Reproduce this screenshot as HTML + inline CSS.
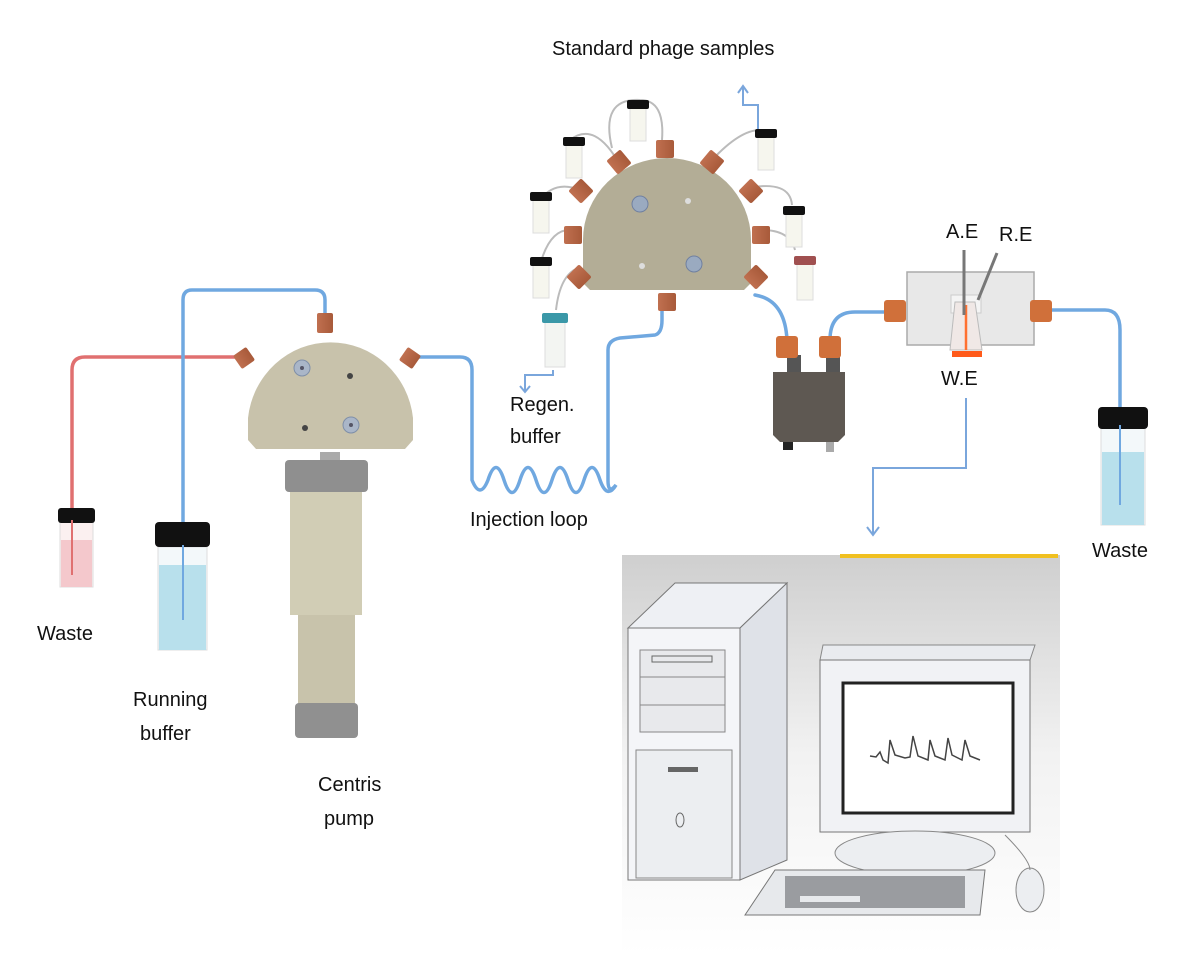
<!DOCTYPE html>
<html><head><meta charset="utf-8"><style>
html,body{margin:0;padding:0;background:#fff;}
svg{display:block;}
text{font-family:"Liberation Sans",sans-serif;font-size:20px;fill:#111;}
</style></head><body>
<svg width="1200" height="955" viewBox="0 0 1200 955" xmlns="http://www.w3.org/2000/svg">
<defs>
<linearGradient id="bg" x1="0" y1="0" x2="0" y2="1"><stop offset="0" stop-color="#cfcfcf"/><stop offset="0.5" stop-color="#f2f2f2"/><stop offset="1" stop-color="#fff"/></linearGradient>
<linearGradient id="cp" x1="0" y1="0" x2="1" y2="0"><stop offset="0" stop-color="#c07050"/><stop offset="1" stop-color="#a85a3a"/></linearGradient>
</defs>

<!-- Computer panel -->
<rect x="622" y="555" width="438" height="400" fill="url(#bg)"/>
<line x1="840" y1="556" x2="1058" y2="556" stroke="#f0c020" stroke-width="4"/>
<!-- tower -->
<polygon points="628,628 675,583 787,583 740,628" fill="#eef0f4" stroke="#777"/>
<polygon points="740,628 787,583 787,860 740,880" fill="#dfe2e8" stroke="#777"/>
<rect x="628" y="628" width="112" height="252" fill="#f4f5f8" stroke="#777"/>
<rect x="640" y="650" width="85" height="82" fill="#e8e9ec" stroke="#888"/>
<line x1="640" y1="677" x2="725" y2="677" stroke="#888"/><line x1="640" y1="705" x2="725" y2="705" stroke="#888"/>
<rect x="652" y="656" width="60" height="6" fill="none" stroke="#666"/>
<rect x="636" y="750" width="96" height="128" fill="#eceef1" stroke="#888"/>
<rect x="668" y="767" width="30" height="5" fill="#666"/>
<ellipse cx="680" cy="820" rx="4" ry="7" fill="none" stroke="#666"/>
<!-- monitor -->
<polygon points="823,645 1035,645 1030,660 820,660" fill="#e9ebef" stroke="#888"/>
<rect x="820" y="660" width="210" height="172" fill="#f1f2f5" stroke="#777"/>
<rect x="843" y="683" width="170" height="130" fill="#fff" stroke="#222" stroke-width="3"/>
<polyline points="870,756 876,757 880,752 883,760 888,763 890,740 895,755 905,758 910,757 913,736 918,756 928,760 930,740 935,756 945,760 948,738 952,755 962,760 965,740 970,756 980,760" fill="none" stroke="#444" stroke-width="1.5"/>
<ellipse cx="915" cy="853" rx="80" ry="22" fill="#eceef1" stroke="#888"/>
<!-- keyboard -->
<polygon points="775,870 985,870 980,915 745,915" fill="#e7e9ec" stroke="#777"/>
<rect x="785" y="876" width="180" height="32" fill="#9a9ca0"/>
<rect x="800" y="896" width="60" height="6" fill="#e7e9ec"/>
<ellipse cx="1030" cy="890" rx="14" ry="22" fill="#eceef1" stroke="#888"/>
<path d="M1005,835 Q1030,860 1030,870" fill="none" stroke="#888"/>

<!-- tubes -->
<g fill="none" stroke-width="3.5" stroke-linecap="round">
<path d="M245,357 L85,357 Q72,357 72,370 L72,550" stroke="#e07070"/>
<path d="M325,320 L325,300 Q325,290 315,290 L192,290 Q183,290 183,300 L183,640" stroke="#70a8e0"/>
<path d="M408,357 L460,357 Q472,357 472,370 L472,480 q8,20 16,0 q8,-25 16,0 q8,25 16,0 q8,-25 16,0 q8,25 16,0 q8,-25 16,0 q8,25 16,0 q8,-25 16,0 q7,20 16,5 Q608,495 608,480 L608,350 Q608,340 620,338 L655,335 Q662,333 662,320 L662,305" stroke="#70a8e0"/>
<path d="M755,295 Q785,300 787,340" stroke="#70a8e0"/>
<path d="M830,340 Q830,312 855,312 L885,312" stroke="#70a8e0"/>
<path d="M1048,310 L1105,310 Q1120,310 1120,330 L1120,410" stroke="#70a8e0"/>
<line x1="915" y1="310" x2="1030" y2="310" stroke="#9cc0e8" stroke-width="2"/>
</g>
<g fill="none" stroke="#7aa6dc" stroke-width="2">
<polyline points="966,398 966,468 873,468 873,535"/><polyline points="867,527 873,535 879,527"/>
<polyline points="758,130 758,105 743,105 743,86"/><polyline points="738,93 743,86 748,93"/>
<polyline points="553,370 553,375 525,375 525,392"/><polyline points="520,386 525,392 530,386"/>
</g>

<!-- Left valve -->
<path d="M248,418 A83,85 0 0 1 413,418 L413,440 L405,449 L256,449 L248,440 Z" fill="#c8c2ab"/>
<circle cx="302" cy="368" r="8" fill="#aab6c8" stroke="#7f8fa8"/><circle cx="302" cy="368" r="2" fill="#556"/>
<circle cx="350" cy="376" r="3" fill="#444"/><circle cx="305" cy="428" r="3" fill="#444"/>
<circle cx="351" cy="425" r="8" fill="#aab6c8" stroke="#7f8fa8"/><circle cx="351" cy="425" r="2" fill="#556"/>
<rect x="317" y="313" width="16" height="20" rx="2" fill="url(#cp)"/>
<rect x="236" y="350" width="16" height="16" rx="2" fill="url(#cp)" transform="rotate(-35 244 358)"/>
<rect x="402" y="350" width="16" height="16" rx="2" fill="url(#cp)" transform="rotate(35 410 358)"/>
<!-- pump -->
<rect x="320" y="452" width="20" height="10" fill="#aaa"/>
<rect x="285" y="460" width="83" height="32" rx="4" fill="#8f8f8f"/>
<rect x="290" y="492" width="72" height="123" fill="#d1cdb5"/>
<rect x="298" y="615" width="57" height="92" fill="#c8c3ab"/>
<rect x="295" y="703" width="63" height="35" rx="4" fill="#909090"/>
<!-- left vials -->
<rect x="60" y="522" width="33" height="65" fill="#fbf0f0" stroke="#ddd"/>
<rect x="61" y="540" width="31" height="47" fill="#f4c8cc"/>
<rect x="58" y="508" width="37" height="15" rx="3" fill="#111"/>
<rect x="158" y="547" width="49" height="103" fill="#f3f8fa" stroke="#ddd"/>
<rect x="159" y="565" width="47" height="85" fill="#b8e0ec"/>
<rect x="155" y="522" width="55" height="25" rx="4" fill="#111"/>
<line x1="72" y1="520" x2="72" y2="575" stroke="#e07070" stroke-width="2"/>
<line x1="183" y1="545" x2="183" y2="620" stroke="#70a8e0" stroke-width="2"/>

<!-- top valve sample tubes (grey) -->
<g fill="none" stroke="#bbb" stroke-width="2">
<path d="M612,148 Q600,98 640,100 Q665,100 662,140"/>
<path d="M620,165 Q595,120 570,140"/>
<path d="M580,190 Q555,180 540,200"/>
<path d="M572,230 Q550,228 540,265"/>
<path d="M578,268 Q560,275 556,310"/>
<path d="M712,160 Q740,130 760,130"/>
<path d="M748,188 Q790,180 792,205"/>
<path d="M762,230 Q790,230 795,250"/>
</g>
<!-- small vials -->
<g>
<rect x="630" y="106" width="16" height="35" fill="#f6f6ee" stroke="#ddd"/><rect x="627" y="100" width="22" height="9" rx="2" fill="#111"/>
<rect x="566" y="143" width="16" height="35" fill="#f6f6ee" stroke="#ddd"/><rect x="563" y="137" width="22" height="9" rx="2" fill="#111"/>
<rect x="533" y="198" width="16" height="35" fill="#f6f6ee" stroke="#ddd"/><rect x="530" y="192" width="22" height="9" rx="2" fill="#111"/>
<rect x="533" y="263" width="16" height="35" fill="#f6f6ee" stroke="#ddd"/><rect x="530" y="257" width="22" height="9" rx="2" fill="#111"/>
<rect x="545" y="321" width="20" height="46" fill="#f3f5f2" stroke="#ddd"/><rect x="542" y="313" width="26" height="10" rx="2" fill="#3a98a8"/>
<rect x="758" y="135" width="16" height="35" fill="#f6f6ee" stroke="#ddd"/><rect x="755" y="129" width="22" height="9" rx="2" fill="#111"/>
<rect x="786" y="212" width="16" height="35" fill="#f6f6ee" stroke="#ddd"/><rect x="783" y="206" width="22" height="9" rx="2" fill="#111"/>
<rect x="797" y="262" width="16" height="38" fill="#f6f6ee" stroke="#ddd"/><rect x="794" y="256" width="22" height="9" rx="2" fill="#a05050"/>
</g>
<!-- top valve -->
<path d="M583,240 A84,82 0 0 1 751,240 L751,283 L744,290 L590,290 L583,283 Z" fill="#b3ad96"/>
<circle cx="640" cy="204" r="8" fill="#9aaac0" stroke="#7080a0"/><circle cx="688" cy="201" r="3" fill="#ddd"/>
<circle cx="642" cy="266" r="3" fill="#ddd"/><circle cx="694" cy="264" r="8" fill="#9aaac0" stroke="#7080a0"/>
<g fill="url(#cp)">
<rect x="656" y="140" width="18" height="18" rx="2"/>
<rect x="610" y="153" width="18" height="18" rx="2" transform="rotate(-40 619 162)"/>
<rect x="703" y="153" width="18" height="18" rx="2" transform="rotate(40 712 162)"/>
<rect x="572" y="182" width="18" height="18" rx="2" transform="rotate(-45 581 191)"/>
<rect x="742" y="182" width="18" height="18" rx="2" transform="rotate(45 751 191)"/>
<rect x="564" y="226" width="18" height="18" rx="2"/>
<rect x="752" y="226" width="18" height="18" rx="2"/>
<rect x="570" y="268" width="18" height="18" rx="2" transform="rotate(45 579 277)"/>
<rect x="747" y="268" width="18" height="18" rx="2" transform="rotate(-45 756 277)"/>
<rect x="658" y="293" width="18" height="18" rx="2"/>
</g>
<!-- detector -->
<rect x="787" y="355" width="14" height="18" fill="#555"/><rect x="826" y="355" width="14" height="18" fill="#555"/>
<rect x="776" y="336" width="22" height="22" rx="3" fill="#d0703a"/><rect x="819" y="336" width="22" height="22" rx="3" fill="#d0703a"/>
<path d="M773,372 L845,372 L845,435 L838,442 L780,442 L773,435 Z" fill="#5e5852"/>
<rect x="783" y="442" width="10" height="8" fill="#222"/><rect x="826" y="442" width="8" height="10" fill="#aaa"/>
<!-- flow cell -->
<rect x="907" y="272" width="127" height="73" fill="#e8e8e8" stroke="#aaa" stroke-width="1.5"/>
<rect x="951" y="295" width="30" height="18" fill="#f4f4f4" stroke="#ccc"/>
<polygon points="955,302 975,302 982,350 950,350" fill="#f0e8e6" stroke="#bbb"/>
<line x1="966" y1="305" x2="966" y2="350" stroke="#ff7030" stroke-width="2.5"/>
<rect x="952" y="351" width="30" height="6" fill="#ff5a1a"/>
<line x1="964" y1="250" x2="964" y2="315" stroke="#777" stroke-width="3"/>
<line x1="997" y1="253" x2="978" y2="300" stroke="#777" stroke-width="3"/>
<rect x="884" y="300" width="22" height="22" rx="3" fill="#d0703a"/>
<rect x="1030" y="300" width="22" height="22" rx="3" fill="#d0703a"/>
<!-- right waste vial -->
<rect x="1101" y="428" width="44" height="97" fill="#f3f8fa" stroke="#ddd"/>
<rect x="1102" y="452" width="42" height="73" fill="#b8e0ec"/>
<rect x="1098" y="407" width="50" height="22" rx="4" fill="#111"/>
<line x1="1120" y1="425" x2="1120" y2="505" stroke="#70a8e0" stroke-width="2"/>

<!-- labels -->
<text x="552" y="55">Standard phage samples</text>
<text x="510" y="411">Regen.</text><text x="510" y="443">buffer</text>
<text x="470" y="526">Injection loop</text>
<text x="37" y="640">Waste</text>
<text x="133" y="706">Running</text><text x="140" y="740">buffer</text>
<text x="318" y="791">Centris</text><text x="324" y="825">pump</text>
<text x="946" y="238">A.E</text><text x="999" y="241">R.E</text>
<text x="941" y="385">W.E</text>
<text x="1092" y="557">Waste</text>
</svg>
</body></html>
